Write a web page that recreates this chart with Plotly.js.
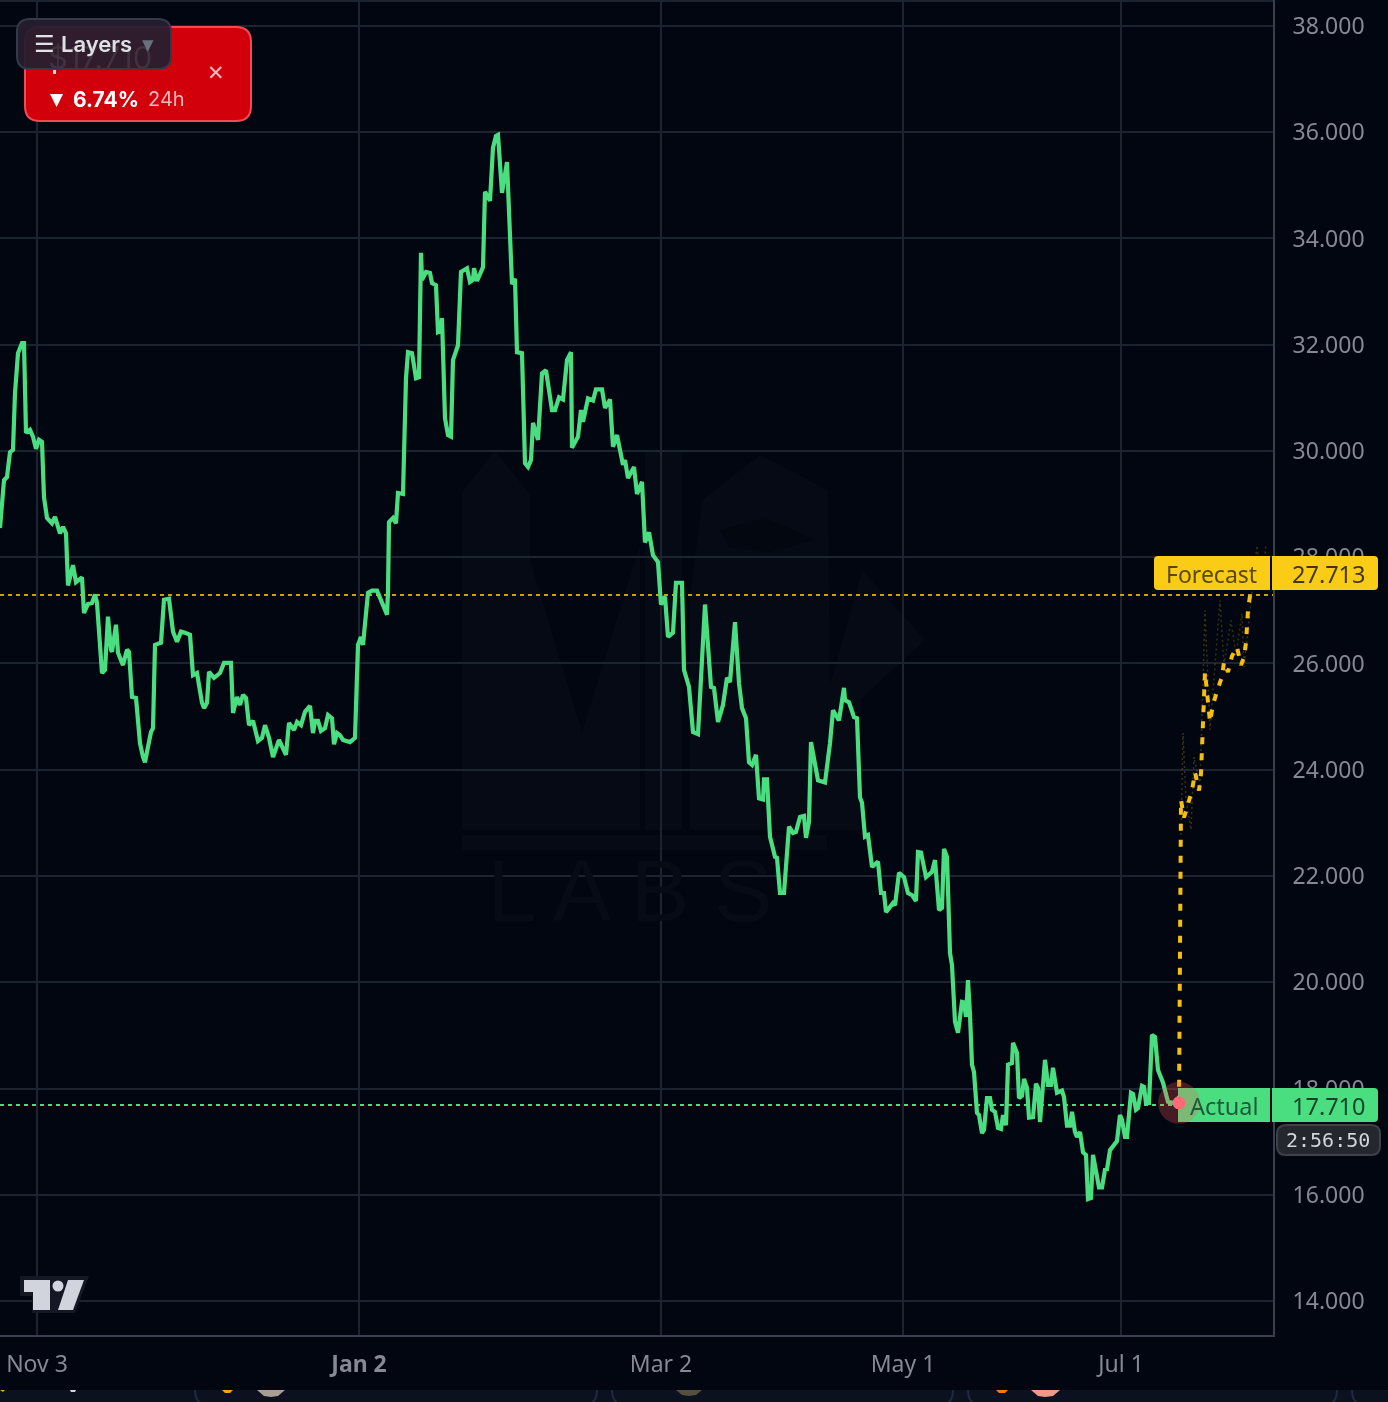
<!DOCTYPE html>
<html>
<head>
<meta charset="utf-8">
<title>Forecast vs actual</title>
<script src="https://cdn.plot.ly/plotly-3.0.1.min.js"></script>
<style>
  html, body { margin: 0; padding: 0; background: #020611; overflow: hidden; }
  #chart { width: 1388px; height: 1402px; filter: blur(0.55px); }
</style>
</head>
<body>
<div id="chart"></div>
<script>
// bar position on the (non linear) time scale, and price
var actualBars = [
  0,2,4,7,10,13,15,18,22,24,26,30,33,36,39,42,44,47,52,55,60,63,66,68,73,76,82,84,88,92,95,97,
  102,105,108,111,112,116,118,123,127,129,132,136,140,143,145,148,151,153,155,161,164,169,173,177,181,185,190,
  193,197,202,204,207,209,214,220,224,231,233,237,240,243,246,249,253,258,262,265,269,273,279,286,
  289,294,297,301,305,310,313,315,318,321,325,328,332,334,337,340,343,350,355,358,361,363,368,372,377,382,387,
  388,389,393,396,398,403,406,408,412,416,419,421,422,426,430,432,436,438,441,442,445,448,451,453,458,
  461,467,470,473,474,477,483,485,490,493,496,498,502,507,509,512,515,517,522,525,528,
  531,533,538,542,546,552,555,559,563,567,571,572,578,581,583,588,593,596,602,
  605,610,613,617,623,625,628,634,637,642,645,649,653,658,661,665,668,673,676,682,
  684,689,693,698,705,711,714,718,723,727,730,735,739,742,746,749,752,756,759,763,764,767,
  770,775,777,780,784,789,793,796,800,804,806,809,811,814,818,825,830,833,839,844,845,849,854,857,860,862,865,868,
  872,878,881,884,886,893,895,899,904,908,912,916,918,921,926,932,935,939,942,944,947,
  950,952,955,958,962,964,966,968,970,972,974,977,979,982,984,987,990,992,995,998,1001,1003,1006,
  1008,1012,1013,1017,1019,1022,1024,1027,1029,1033,1036,1038,1040,1045,1048,1051,1053,1057,1062,1064,
  1067,1070,1072,1075,1077,1080,1083,1086,1088,1091,1093,1099,1102,1105,1107,1110,1117,1120,
  1122,1125,1127,1131,1133,1136,1138,1142,1144,1146,1149,1152,1155,1158,1163,1168,1173,1179
];
var actualPrices = [
  28.55,28.94,29.45,29.51,29.98,30.02,31.09,31.84,32.03,32.03,30.34,30.40,30.27,30.04,30.21,30.17,29.13,28.74,28.64,28.76,28.45,28.57,28.45,27.47,27.85,27.53,27.62,26.95,27.12,27.14,27.30,27.14,
  25.82,25.88,26.88,26.26,26.22,26.73,26.20,25.97,26.26,26.22,25.37,25.35,24.50,24.24,24.14,24.43,24.71,24.78,26.35,26.39,27.20,27.22,26.60,26.41,26.60,26.58,26.54,
  25.78,25.82,25.26,25.16,25.26,25.84,25.73,25.82,26.01,26.01,25.07,25.37,25.22,25.41,25.35,24.84,24.92,24.54,24.60,24.84,24.60,24.24,24.56,24.28,
  24.88,24.75,24.90,24.84,25.09,25.20,24.69,24.92,24.92,24.73,24.78,25.03,24.97,24.48,24.69,24.65,24.56,24.52,24.60,26.35,26.50,26.35,27.33,27.37,27.37,27.14,26.92,
  27.35,28.66,28.74,28.64,29.21,29.19,31.37,31.86,31.84,31.37,31.39,33.73,33.22,33.37,33.35,33.16,33.12,32.24,32.27,32.50,30.62,30.30,30.27,31.71,31.99,
  33.37,33.44,33.18,33.22,33.44,33.20,33.46,34.88,34.71,35.71,35.93,35.95,34.86,35.44,34.44,33.14,33.24,31.86,31.84,29.77,29.70,
  29.83,30.53,30.21,31.46,31.52,30.77,30.77,31.01,30.97,31.71,31.86,30.06,30.27,30.77,30.55,30.99,30.95,31.16,31.16,
  30.81,30.97,30.08,30.30,29.74,29.83,29.49,29.70,29.19,29.42,28.28,28.47,28.04,27.91,27.11,27.26,26.50,26.58,27.52,27.52,
  25.88,25.56,24.71,24.67,27.11,25.56,25.54,24.90,25.22,25.73,25.65,26.78,25.63,25.16,24.97,24.14,24.09,24.28,23.46,23.44,23.82,23.82,
  22.74,22.36,22.34,21.68,21.68,22.93,22.81,22.83,23.11,23.13,22.72,23.02,24.52,24.18,23.80,23.76,24.50,25.12,24.93,25.54,25.31,25.27,24.99,24.97,23.48,23.38,22.74,22.77,
  22.17,22.27,21.68,21.68,21.32,21.49,21.45,22.06,21.98,21.68,21.64,21.53,22.45,22.44,21.98,22.08,22.30,21.36,21.40,22.51,22.36,
  20.55,20.32,19.26,19.05,19.63,19.62,19.35,20.04,19.39,18.45,18.31,17.54,17.50,17.16,17.22,17.82,17.82,17.60,17.56,17.26,17.24,17.50,17.31,
  18.45,18.48,18.86,18.67,17.82,17.86,18.18,18.01,17.45,17.46,18.09,18.01,17.37,18.54,18.07,18.07,18.39,17.92,17.96,17.84,
  17.30,17.30,17.56,17.18,17.09,17.18,16.80,16.75,15.92,15.94,16.75,16.14,16.14,16.47,16.48,16.84,17.01,17.50,
  17.41,17.09,17.09,17.92,17.90,17.60,17.63,18.05,18.03,17.73,17.73,19.01,18.97,18.35,18.11,17.75,17.73,17.73
];

var forecastBars = [1179,1180,1181,1184,1188,1192,1195,1197,1199,1201,1203,1204,1205,1205,1210,1213,1217,1222,1224,1228,1232,1237,1241,1244,1246,1247,1248,1250,1253];
var forecastPrices = [17.73,22.87,23.43,23.10,23.33,23.61,23.95,23.76,23.61,23.93,24.84,25.16,25.50,25.84,24.90,25.22,25.48,25.75,26.03,25.84,26.14,26.31,25.97,26.12,26.39,26.69,27.00,27.28,27.66];

// the faint dotted spikes behind the forecast
var ghostBars = [1181,1183,1186,1191,1194,1200,1205,1210,1220,1224,1231,1236,1242,1244,1257,1262,1266];
var ghostPrices = [22.77,24.69,23.43,22.87,24.24,23.71,27.00,24.75,27.19,25.97,26.81,26.16,26.94,25.93,28.22,27.38,28.26];

var forecastLevel = 27.29;
var actualLevel = 17.69;
var lastBar = 1179;
var lastPrice = 17.73;

var dateBars = [37, 359, 661, 903, 1121];
var dateLabels = ["Nov 3", "<b>Jan 2</b>", "Mar 2", "May 1", "Jul 1"];
var priceTicks = [14, 16, 18, 20, 22, 24, 26, 28, 30, 32, 34, 36, 38];

var BG = "#020611";
var GREEN = "#4ade80";
var YELLOW = "#facc15";
var PLOT_W = 1273;
var PLOT_H = 1335;

function px(x) { return x / PLOT_W; }
function py(y) { return 1 - y / PLOT_H; }

function poly(points, fill) {
  var d = points.map(function(p, i) {
    return (i ? "L" : "M") + px(p[0]) + "," + py(p[1]);
  }).join(" ") + " Z";
  return { type: "path", xref: "paper", yref: "paper", path: d, fillcolor: fill, line: { width: 0 }, layer: "above" };
}

// r for each corner: tl tr br bl
function roundBox(x0, y0, x1, y1, r, fill, border, layer) {
  var a = r[0], b = r[1], c = r[2], e = r[3];
  var d = "M" + px(x0 + a) + "," + py(y0) +
    " L" + px(x1 - b) + "," + py(y0) + " Q" + px(x1) + "," + py(y0) + " " + px(x1) + "," + py(y0 + b) +
    " L" + px(x1) + "," + py(y1 - c) + " Q" + px(x1) + "," + py(y1) + " " + px(x1 - c) + "," + py(y1) +
    " L" + px(x0 + e) + "," + py(y1) + " Q" + px(x0) + "," + py(y1) + " " + px(x0) + "," + py(y1 - e) +
    " L" + px(x0) + "," + py(y0 + a) + " Q" + px(x0) + "," + py(y0) + " " + px(x0 + a) + "," + py(y0) + " Z";
  return {
    type: "path", xref: "paper", yref: "paper", path: d, fillcolor: fill,
    line: border ? { color: border, width: 2 } : { width: 0 }, layer: layer || "above"
  };
}

// bottom corner of a card in the strip, dir 1 = left corner, -1 = right corner
function cardCorner(x, dir) {
  var d = "M" + px(x) + "," + py(1390) + " Q" + px(x) + "," + py(1403) + " " + px(x + dir * 10) + "," + py(1405);
  return {
    type: "path", xref: "paper", yref: "paper", path: d, fillcolor: "rgba(0,0,0,0)",
    line: { color: "#1f2a3e", width: 2 }, layer: "above"
  };
}

function dot(cx, cy, r, fill) {
  return {
    type: "circle", xref: "paper", yref: "paper",
    x0: px(cx - r), x1: px(cx + r), y0: py(cy + r), y1: py(cy - r),
    fillcolor: fill, line: { width: 0 }, layer: "above"
  };
}

function lastPointDot(r, fill) {
  return {
    type: "circle", xref: "x", yref: "y", xsizemode: "pixel", ysizemode: "pixel",
    xanchor: lastBar, yanchor: lastPrice, x0: -r, x1: r, y0: -r, y1: r,
    fillcolor: fill, line: { width: 0 }, layer: "above"
  };
}

function label(text, x, y, size, color, family, anchor, weight) {
  return {
    text: text, xref: "paper", yref: "paper", x: px(x), y: py(y), showarrow: false,
    xanchor: anchor || "left", yanchor: "middle", borderpad: 0,
    font: { size: size, color: color, family: family || "Noto Sans", weight: weight || 400 }
  };
}

var WM = "#050a14";
var shapes = [
  // watermark behind the line
  poly([[462,492],[495,450],[530,495],[530,830],[462,830]], WM),
  poly([[530,560],[582,732],[640,545],[640,830],[530,830]], WM),
  poly([[645,452],[682,452],[682,830],[645,830]], WM),
  poly([[702,500],[760,455],[828,490],[830,690],[790,830],[690,830],[690,600]], WM),
  poly([[790,830],[862,570],[925,640],[860,700],[860,830]], WM),
  poly([[462,835],[827,835],[827,850],[462,850]], WM),
  poly([[720,530],[765,518],[815,540],[770,552],[730,548]], "#03070f"),
  poly([[0,0],[PLOT_W,0],[PLOT_W,2],[0,2]], "#1c2331")
];
shapes.forEach(function(s) { s.layer = "below"; });

shapes = shapes.concat([
  // price tags
  roundBox(1154, 556, 1270, 590, [4,0,0,4], YELLOW),
  roundBox(1272, 556, 1378, 590, [0,4,4,0], YELLOW),
  roundBox(1178, 1088, 1270, 1122, [0,0,0,0], GREEN),
  roundBox(1272, 1088, 1378, 1122, [0,4,4,0], GREEN),
  roundBox(1277, 1125, 1380, 1155, [9,9,9,9], "#24272e", "#3d4149"),
  lastPointDot(21, "rgba(255,85,85,0.27)"),
  lastPointDot(6.5, "#ff6b74"),
  // red ticker card and the layers button on top of it
  roundBox(25, 27, 251, 121, [15,15,15,15], "#d1000a", "#ef4b55"),
  poly([[53,70],[56,70],[56,74],[53,74]], "#f5d5d5"),
  roundBox(17, 19, 171, 69, [13,13,13,13], "rgba(38,30,46,0.95)", "#333a4b"),
  // tv logo
  poly([[20,1276],[89,1276],[75,1313],[32,1313],[32,1296],[20,1296]], "#141824"),
  poly([[24,1280],[50,1280],[50,1310],[33,1310],[33,1292],[24,1292]], "#d1d4dc"),
  dot(58, 1286, 5.5, "#d1d4dc"),
  poly([[68,1280],[84,1280],[73,1310],[58,1310]], "#d1d4dc"),
  // clipped strip of cards under the chart
  poly([[0,1390],[1388,1390],[1388,1402],[0,1402]], "#0b111f"),
  cardCorner(195, 1), cardCorner(597, -1),
  cardCorner(612, 1), cardCorner(953, -1),
  cardCorner(968, 1), cardCorner(1337, -1),
  cardCorner(1352, 1),
  poly([[257,1390],[285,1390],[278,1396],[271,1397],[264,1396]], "#a89f92"),
  poly([[222,1390],[233,1390],[230,1393],[225,1393]], "#f0a11e"),
  poly([[676,1390],[702,1390],[696,1395],[689,1396],[682,1395]], "#55503c"),
  poly([[996,1390],[1008,1390],[1005,1393],[999,1393]], "#ee7d10"),
  poly([[1031,1390],[1060,1390],[1053,1396],[1045,1397],[1038,1396]], "#ee9a86"),
  poly([[0,1390],[5,1390],[3,1392]], "#f0a11e"),
  poly([[70,1390],[76,1390],[75,1392],[71,1392]], "#d5d7de")
]);

var annotations = [
  label("Forecast", 1165, 573.5, 23, "#5a4a06"),
  label("27.713", 1291, 573.5, 23.5, "#43380a"),
  label("Actual", 1189, 1105.5, 23.5, "#1f5a3a"),
  label("17.710", 1291, 1105.5, 23.5, "#14452b"),
  label("2:56:50", 1328, 1139.5, 20, "#d1d4dc", "DejaVu Sans Mono", "center"),
  label("▼", 49, 99, 17, "#ffffff", "DejaVu Sans"),
  label("<b>6.74%</b>", 72, 99, 21, "#ffffff", "Inter"),
  label("24h", 147, 99, 20, "rgba(255,255,255,0.72)", "Inter"),
  label("✕", 216, 73, 21, "rgba(255,255,255,0.72)", "DejaVu Sans", "center"),
  label("$17.710", 47, 58, 31, "#40323f", "Inter"),
  label("☰", 33, 44, 23, "#e2e3e8", "DejaVu Sans"),
  label("Layers", 60, 44, 22, "#dfe0e6", "Inter", "left", 600),
  label("▼", 141, 45, 15, "#69707e", "DejaVu Sans")
];

var traces = [
  {
    x: [630], y: [21.57], mode: "text", text: ["L A B S"], textposition: "middle center",
    textfont: { size: 88, color: "#060b15", family: "Liberation Sans" }, hoverinfo: "skip"
  },
  {
    x: ghostBars, y: ghostPrices, mode: "lines", hoverinfo: "skip",
    line: { color: "rgba(250,204,21,0.22)", width: 1.5, dash: "2px,3px" }
  },
  {
    x: [0, PLOT_W], y: [forecastLevel, forecastLevel], mode: "lines", hoverinfo: "skip",
    line: { color: "#c9a010", width: 2, dash: "4px,4px" }
  },
  {
    x: [0, lastBar], y: [actualLevel, actualLevel], mode: "lines", hoverinfo: "skip",
    line: { color: GREEN, width: 2, dash: "4px,4px" }
  },
  {
    x: actualBars, y: actualPrices, mode: "lines", hoverinfo: "skip",
    line: { color: GREEN, width: 4.2 }
  },
  {
    x: forecastBars, y: forecastPrices, mode: "lines", hoverinfo: "skip",
    line: { color: "#f5bf12", width: 4, dash: "7px,9px" }
  }
];

var layout = {
  width: 1388,
  height: 1402,
  margin: { l: 0, r: 115, t: 0, b: 67, pad: 0 },
  paper_bgcolor: BG,
  plot_bgcolor: BG,
  showlegend: false,
  xaxis: {
    range: [0, PLOT_W],
    tickvals: dateBars,
    ticktext: dateLabels,
    tickangle: 0,
    ticks: "",
    ticklabelstandoff: 7,
    tickfont: { size: 23, color: "#868993", family: "Noto Sans" },
    gridcolor: "#1c2331",
    gridwidth: 2,
    showline: true,
    linecolor: "#383f4e",
    linewidth: 2,
    zeroline: false
  },
  yaxis: {
    side: "right",
    range: [13.36, 38.489],
    tickvals: priceTicks,
    tickformat: ".3f",
    ticks: "",
    ticklabelstandoff: 13,
    tickfont: { size: 23, color: "#868993", family: "Noto Sans" },
    gridcolor: "#1c2331",
    gridwidth: 2,
    showline: true,
    linecolor: "#383f4e",
    linewidth: 2,
    zeroline: false
  },
  shapes: shapes,
  annotations: annotations
};

Plotly.newPlot("chart", traces, layout, { displayModeBar: false, staticPlot: true });
</script>
</body>
</html>
